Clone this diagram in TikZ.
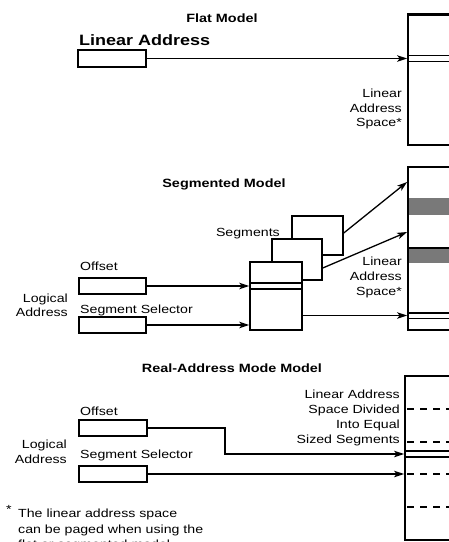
\documentclass[tikz,border=0pt]{standalone}
\usepackage{fontspec}
\setmainfont{Liberation Sans}[FakeStretch=1.2]
\usetikzlibrary{arrows.meta}
\begin{document}
\begin{tikzpicture}[x=1pt,y=-1pt,
  lbl/.style={inner sep=0pt,font=\fontsize{11.8}{14}\selectfont},
  ttl/.style={inner sep=0pt,font=\fontsize{12}{14}\selectfont\bfseries},
  bigttl/.style={inner sep=0pt,font=\fontsize{15}{18}\selectfont\bfseries},
  fbox/.style={draw,line width=1.5pt,inner sep=0pt,fill=white},
  spacebox/.style={draw,line width=1.8pt,inner sep=0pt},
  conn/.style={line width=1.3pt,-{Stealth[length=10pt,width=6.5pt,inset=2.5pt]}},
  plain/.style={line width=1.5pt},
  dsh/.style={line width=1.2pt,dash pattern=on 7pt off 6pt}]
\clip (0,0) rectangle (449,542);
\fill[white] (0,0) rectangle (449,542);

% ---------------- Flat model ----------------
\node[ttl,anchor=base] (tflat) at (222,22) {Flat Model};
\node[bigttl,anchor=base west] (tla) at (79,45) {Linear Address};
\node[fbox,minimum width=68pt,minimum height=17pt] (la) at (112,58.5) {};
\node[spacebox,minimum width=70pt,minimum height=131pt] (fsp) at (443,79.5) {};
\draw[line width=3pt] (407,14) -- (480,14);
\draw[plain] (408,55.5) -- (480,55.5);
\draw[plain] (408,61.5) -- (480,61.5);
\draw[conn] (la.east) -- (la.east -| fsp.west);
\node[lbl,anchor=base east] (fl1) at (402,97) {Linear};
\node[lbl,anchor=base east] (fl2) at (402,112) {Address};
\node[lbl,anchor=base east] (fl3) at (402,126) {Space*};

% ---------------- Segmented model ----------------
\node[ttl,anchor=base] (tseg) at (224,187) {Segmented Model};
\fill[gray!95!black] (408,198) rectangle (480,215);
\fill[gray!95!black] (408,248) rectangle (480,263);
\draw[line width=2pt] (408,248) -- (480,248);
\draw[plain] (408,313) -- (480,313);
\draw[plain] (408,318.5) -- (480,318.5);
\node[spacebox,minimum width=70pt,minimum height=163pt] (ssp) at (443,248.5) {};
\node[fbox,minimum width=51pt,minimum height=39pt] (sg3) at (317.5,235.5) {};
\node[fbox,minimum width=50pt,minimum height=41pt] (sg2) at (297,259.5) {};
\node[fbox,minimum width=52pt,minimum height=68pt] (sg1) at (276,296) {};
\draw[plain] (sg1.west |- 0,283) -- (sg1.east |- 0,283);
\draw[plain] (sg1.west |- 0,289) -- (sg1.east |- 0,289);
\node[lbl,anchor=base east] (tsegs) at (280,236) {Segments};
\draw[conn] (sg3.east |- 0,233) -- (ssp.west |- 0,182);
\draw[conn] (sg2.east |- 0,268) -- (ssp.west |- 0,232);
\draw[conn] (sg1.east |- 0,315.5) -- (ssp.west |- 0,315.5);
\node[lbl,anchor=base east] (sl1) at (402,265) {Linear};
\node[lbl,anchor=base east] (sl2) at (402,280) {Address};
\node[lbl,anchor=base east] (sl3) at (402,295) {Space*};
\node[lbl,anchor=base west] (soff) at (80,270) {Offset};
\node[fbox,minimum width=67pt,minimum height=16pt] (so) at (112.5,286) {};
\node[lbl,anchor=base west] (ssel) at (80,313) {Segment Selector};
\node[fbox,minimum width=67pt,minimum height=16pt] (sss) at (112.5,325) {};
\node[lbl,anchor=base east] (slog1) at (68,302) {Logical};
\node[lbl,anchor=base east] (slog2) at (68,316) {Address};
\draw[conn] (so.east) -- (so.east -| sg1.west);
\draw[conn] (sss.east) -- (sss.east -| sg1.west);

% ---------------- Real-address mode model ----------------
\node[ttl,anchor=base] (treal) at (232,372) {Real-Address Mode Model};
\node[spacebox,minimum width=70pt,minimum height=164pt] (rsp) at (440,458) {};
\draw[dsh] (407,409) -- (480,409);
\draw[dsh] (407,442) -- (480,442);
\draw[dsh] (407,474) -- (480,474);
\draw[dsh,line width=2pt] (407,507) -- (480,507);
\draw[line width=1.3pt] (405,451) -- (480,451);
\draw[line width=1.3pt] (405,457) -- (480,457);
\node[lbl,anchor=base east] (rl1) at (400,398) {Linear Address};
\node[lbl,anchor=base east] (rl2) at (400,413) {Space Divided};
\node[lbl,anchor=base east] (rl3) at (400,428) {Into Equal};
\node[lbl,anchor=base east] (rl4) at (400,443) {Sized Segments};
\node[lbl,anchor=base west] (roff) at (80,415) {Offset};
\node[fbox,minimum width=68pt,minimum height=16pt] (ro) at (113,428) {};
\node[lbl,anchor=base west] (rsel) at (80,458) {Segment Selector};
\node[fbox,minimum width=68pt,minimum height=16pt] (rss) at (113,474) {};
\node[lbl,anchor=base east] (rlog1) at (67,448) {Logical};
\node[lbl,anchor=base east] (rlog2) at (67,463) {Address};
\coordinate (bend) at (225,454);
\draw[conn] (ro.east) -| (bend) -- (bend -| rsp.west);
\draw[conn] (rss.east) -- (rss.east -| rsp.west);

% ---------------- Footnote ----------------
\node[lbl,anchor=base west] (fstar) at (6,513) {*};
\node[lbl,anchor=base west] (fn1) at (18,517) {The linear address space};
\node[lbl,anchor=base west] (fn2) at (18,533) {can be paged when using the};
\node[lbl,anchor=base west] (fn3) at (18,548) {flat or segmented model.};
\end{tikzpicture}
\end{document}
